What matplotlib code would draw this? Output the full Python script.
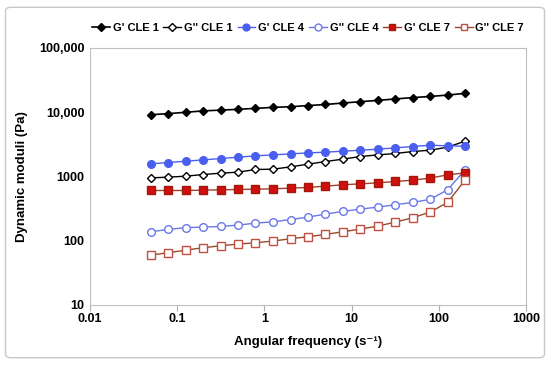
import numpy as np
import matplotlib
matplotlib.use("Agg")
import matplotlib.pyplot as plt
from matplotlib.patches import FancyBboxPatch

plt.rcParams['font.family'] = ['Liberation Sans', 'DejaVu Sans']
plt.rcParams['font.weight'] = 'bold'

# angular frequency (1/s)
freq = [0.05, 0.079, 0.126, 0.2, 0.316, 0.5, 0.79, 1.26, 2.0, 3.16,
        5.0, 7.9, 12.6, 20.0, 31.6, 50.0, 79.0, 126.0, 200.0]

g1_storage = [9160, 9510, 10000, 10500, 10800, 11100, 11500, 11900, 12200, 12700,
              13200, 13900, 14600, 15300, 16100, 16900, 17600, 18500, 19700]
g1_loss = [953, 976, 1012, 1074, 1127, 1168, 1285, 1300, 1413, 1555,
           1710, 1860, 2045, 2170, 2280, 2445, 2565, 2860, 3545]
g4_storage = [1574, 1650, 1730, 1815, 1904, 1997, 2095, 2170, 2250, 2330,
              2390, 2475, 2565, 2660, 2790, 2925, 3070, 3000, 2960]
g4_loss = [138, 150, 160, 163, 167, 175, 188, 197, 214, 233,
           260, 286, 311, 334, 363, 395, 439, 620, 1270]
g7_storage = [606, 606, 606, 613, 620, 628, 635, 643, 659, 675,
              708, 742, 769, 797, 836, 877, 942, 1061, 1140]
g7_loss = [59.9, 65.1, 71.6, 77.9, 83.6, 88.8, 93.1, 98.8, 107.6, 115.4,
           125.4, 137.9, 151.8, 169.0, 194.8, 227.6, 278.6, 394, 880]

xticks = [0.01, 0.1, 1, 10, 100, 1000]
xtick_labels = ['0.01', '0.1', '1', '10', '100', '1000']
yticks = [10, 100, 1000, 10000, 100000]
ytick_labels = ['10', '100', '1000', '10,000', '100,000']

fig = plt.figure(figsize=(5.5, 3.65), dpi=100)
fig.patches.append(FancyBboxPatch((0.01, 0.02), 0.98, 0.96, boxstyle="round,pad=0,rounding_size=0.01",
                                  transform=fig.transFigure, fill=False, edgecolor='#c8c8c8', lw=1.0))
ax = fig.add_axes([0.1636, 0.1644, 0.7928, 0.7041])

ax.plot(freq, g1_storage, '-D', color='black', ms=4.5, lw=1.2, label="G' CLE 1")
ax.plot(freq, g1_loss, '-D', color='black', mfc='white', ms=4.5, lw=1.0, label="G'' CLE 1")
ax.plot(freq, g4_storage, '-o', color='#4a5ff0', ms=5.5, lw=1.0, label="G' CLE 4")
ax.plot(freq, g4_loss, '-o', color='#6a78e8', mfc='white', ms=5.5, lw=1.0, label="G'' CLE 4")
ax.plot(freq, g7_storage, '-s', color='#a0402a', mfc='#d01010', mec='#a01808', ms=5.5, lw=1.0, label="G' CLE 7")
ax.plot(freq, g7_loss, '-s', color='#9a4a2a', mfc='white', mec='#c05040', ms=5.5, lw=1.0, label="G'' CLE 7")

ax.set_xscale('log')
ax.set_yscale('log')
ax.set_xlim(0.01, 1000)
ax.set_ylim(10, 100000)
ax.set_xticks(xticks)
ax.set_xticklabels(xtick_labels)
ax.set_yticks(yticks)
ax.set_yticklabels(ytick_labels)
ax.minorticks_off()
ax.tick_params(axis='x', length=4, color='#b0b0b0', labelsize=9, pad=2)
ax.tick_params(axis='y', length=0, labelsize=9, pad=4)
for s in ax.spines.values():
    s.set_color('#c0c0c0')

ax.set_xlabel('Angular frequency (s⁻¹)', fontsize=9.5, fontweight='bold', labelpad=8)
ax.set_ylabel('Dynamic moduli (Pa)', fontsize=9.5, fontweight='bold', labelpad=8)

ax.legend(loc='lower center', bbox_to_anchor=(0.5, 1.03), ncol=6, frameon=False,
          handlelength=1.6, handletextpad=0.25, columnspacing=0.45,
          borderaxespad=0.3, markerscale=0.9, prop={'weight': 'bold', 'size': 8})

fig.savefig('out.png', dpi=100)
